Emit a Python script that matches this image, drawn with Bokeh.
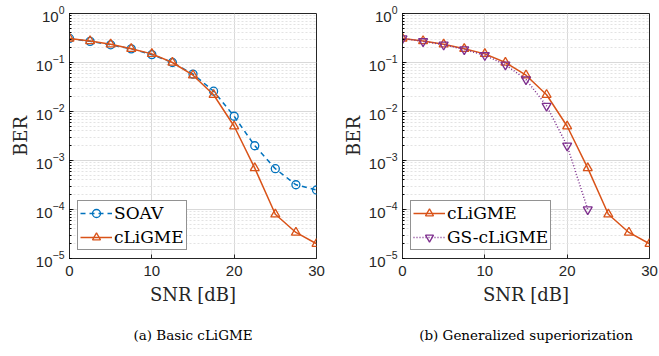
from bokeh.plotting import figure
from bokeh.layouts import row
from bokeh.models import Title, Legend, LegendItem, FixedTicker
from bokeh.embed import file_html
from bokeh.resources import INLINE

snr = [0, 2.5, 5, 7.5, 10, 12.5, 15, 17.5, 20, 22.5, 25, 27.5, 30]
ber_soav = [0.31, 0.27, 0.23, 0.19, 0.145, 0.10, 0.058, 0.026, 0.008, 0.002, 0.00068, 0.00032, 0.00025]
ber_cligme = [0.31, 0.275, 0.235, 0.19, 0.15, 0.10, 0.055, 0.022, 0.005, 0.0007, 0.00008, 0.000034, 0.00002]
snr_gs = [0, 2.5, 5, 7.5, 10, 12.5, 15, 17.5, 20, 22.5]
ber_gs = [0.31, 0.27, 0.23, 0.185, 0.14, 0.09, 0.045, 0.013, 0.002, 0.0001]

x_ticks = [0, 10, 20, 30]
captions = ["(a) Basic cLiGME", "(b) Generalized superiorization"]

BLUE = "#0072BD"
ORANGE = "#D95319"
PURPLE = "#7E2F8E"
SANS = "Liberation Sans"
SERIF = "DejaVu Serif"


def make_fig(border_left, border_right, caption, cap_offset):
    p = figure(y_axis_type="log", x_range=(0, 30), y_range=(1e-5, 1),
               frame_width=247, frame_height=245,
               min_border_left=border_left, min_border_right=border_right,
               min_border_top=13, min_border_bottom=0,
               output_backend="svg", toolbar_location=None)
    p.outline_line_color = "#262626"
    p.outline_line_width = 1
    p.xaxis.ticker = FixedTicker(ticks=x_ticks)
    p.xgrid.ticker = FixedTicker(ticks=x_ticks)
    for ax in (p.xaxis[0], p.yaxis[0]):
        ax.major_label_text_font = SANS
        ax.major_label_text_font_size = "15px"
        ax.major_label_text_color = "#262626"
        ax.axis_line_color = "#262626"
        ax.major_tick_line_color = "#262626"
        ax.major_tick_in = 4
        ax.major_tick_out = 0
        ax.minor_tick_in = 2
        ax.minor_tick_out = 0
        ax.axis_label_text_font = SERIF
        ax.axis_label_text_font_style = "normal"
        ax.axis_label_text_font_size = "18px"
        ax.axis_label_text_color = "#262626"
    p.xaxis.minor_tick_line_color = None
    p.xaxis.axis_label = "SNR [dB]"
    p.xaxis.major_label_standoff = 7
    p.xaxis.axis_label_standoff = 5
    p.yaxis.axis_label = "BER"
    p.yaxis.major_label_standoff = 5
    p.yaxis.axis_label_standoff = 2
    p.xgrid.grid_line_color = "#d9d9d9"
    p.ygrid.grid_line_color = "#d9d9d9"
    p.ygrid.minor_grid_line_color = "#e3e3e3"
    p.ygrid.minor_grid_line_dash = "2 2"
    t = Title(text=caption, align="center", offset=cap_offset, text_font=SERIF,
              text_font_style="normal", text_font_size="13.5px",
              text_color="black", standoff=34)
    p.add_layout(t, "below")
    return p


p1 = make_fig(69, 14, captions[0], -25)
l1a = p1.line(snr, ber_soav, line_color=BLUE, line_width=1.5, line_dash="5 4")
m1a = p1.scatter(snr, ber_soav, marker="circle", size=8, line_color=BLUE,
                 fill_color=None, line_width=1.3)
l1b = p1.line(snr, ber_cligme, line_color=ORANGE, line_width=1.5)
m1b = p1.scatter(snr, ber_cligme, marker="triangle", size=9, line_color=ORANGE,
                 fill_color=None, line_width=1.3)

p2 = make_fig(72, 10, captions[1], 30)
l2a = p2.line(snr, ber_cligme, line_color=ORANGE, line_width=1.5)
m2a = p2.scatter(snr, ber_cligme, marker="triangle", size=9, line_color=ORANGE,
                 fill_color=None, line_width=1.3)
l2b = p2.line(snr_gs, ber_gs, line_color=PURPLE, line_width=1.5, line_dash="1 2")
m2b = p2.scatter(snr_gs, ber_gs, marker="inverted_triangle", size=9,
                 line_color=PURPLE, fill_color=None, line_width=1.3)


def add_legend(p, items):
    lg = Legend(items=items, location="bottom_left",
                label_text_font=SERIF, label_text_font_size="17px",
                label_text_color="black", glyph_width=32, glyph_height=20,
                label_standoff=2, spacing=4, padding=2, margin=8,
                border_line_color="#262626", border_line_width=1,
                background_fill_alpha=1)
    p.add_layout(lg)


add_legend(p1, [LegendItem(label="SOAV", renderers=[l1a, m1a]),
                LegendItem(label="cLiGME", renderers=[l1b, m1b])])
add_legend(p2, [LegendItem(label="cLiGME", renderers=[l2a, m2a]),
                LegendItem(label="GS-cLiGME", renderers=[l2b, m2b])])

layout = row(p1, p2, spacing=0)
open("out.html", "w").write(file_html(layout, INLINE))
